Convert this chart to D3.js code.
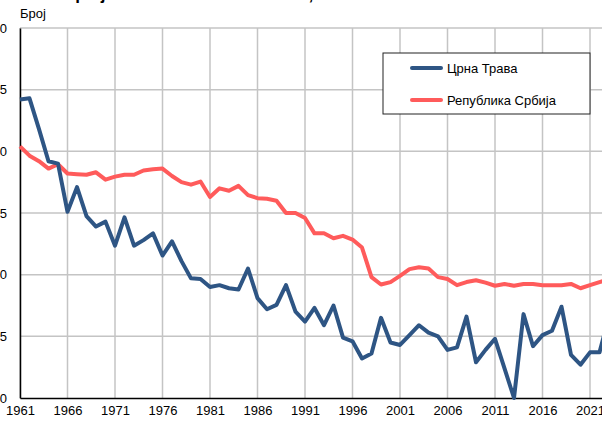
<!DOCTYPE html>
<html>
<head>
<meta charset="utf-8">
<script src="https://cdn.jsdelivr.net/npm/d3@7"></script>
<style>
  html, body { margin: 0; padding: 0; overflow: hidden; background: #fff; }
  svg { display: block; font-family: "Liberation Sans", Arial, sans-serif; }
</style>
</head>
<body>
<div class="chart"></div>
<script>
const years = d3.range(1961, 2024);
const crnaTrava = [24.2, 24.3, 21.8, 19.2, 19.0, 15.1, 17.1, 14.75, 13.9, 14.3,
  12.35, 14.65, 12.35, 12.8, 13.35, 11.55, 12.7, 11.1, 9.7, 9.65,
  9.0, 9.15, 8.9, 8.8, 10.5, 8.1, 7.2, 7.55, 9.15, 7.0,
  6.2, 7.3, 5.9, 7.5, 4.9, 4.6, 3.2, 3.6, 6.5, 4.5,
  4.3, 5.1, 5.9, 5.3, 5.0, 3.9, 4.1, 6.6, 2.9, 3.9,
  4.8, 2.4, 0.0, 6.8, 4.2, 5.1, 5.45, 7.4, 3.5, 2.7,
  3.7, 3.7, 6.6];
const srbija = [20.4, 19.65, 19.2, 18.6, 18.95, 18.2, 18.15, 18.1, 18.3, 17.7,
  17.95, 18.1, 18.1, 18.45, 18.55, 18.6, 18.0, 17.5, 17.3, 17.55,
  16.3, 17.0, 16.8, 17.2, 16.45, 16.2, 16.15, 16.0, 15.0, 15.0,
  14.6, 13.35, 13.35, 12.95, 13.15, 12.85, 12.2, 9.8, 9.2, 9.4,
  9.9, 10.45, 10.6, 10.5, 9.8, 9.65, 9.15, 9.4, 9.55, 9.35,
  9.1, 9.25, 9.1, 9.25, 9.25, 9.15, 9.15, 9.15, 9.25, 8.9,
  9.15, 9.4, 9.6];
const yTicks = [0, 5, 10, 15, 20, 25, 30];
const xTicks = d3.range(1961, 2027, 5);
const seriesNames = ["Црна Трава", "Република Србија"];
const seriesColors = ["#2e5584", "#ff5b5b"];

const W = 602, H = 421;
const margin = { top: 28, left: 20 };
const plotH = 370;

const svg = d3.select(".chart")
  .append("svg")
  .attr("width", W)
  .attr("height", H);

// scales: 9.5 px per year, plot runs past the right edge
const x = d3.scaleLinear()
  .domain([1961, 2023])
  .range([margin.left, margin.left + 62 * 9.5]);
const y = d3.scaleLinear()
  .domain([0, 30])
  .range([margin.top + plotH, margin.top]);

// title (cut off at the top, only descenders show)
svg.append("text")
  .attr("x", 20)
  .attr("y", -0.5)
  .attr("font-size", 17)
  .attr("font-weight", "bold")
  .text("Стопа рађања на 1000 становника, 1961–2023");

svg.append("text")
  .attr("x", 20)
  .attr("y", 18)
  .attr("font-size", 13)
  .text("Број");

// grid
svg.append("g")
  .selectAll("line")
  .data(xTicks)
  .join("line")
  .attr("x1", d => x(d)).attr("x2", d => x(d))
  .attr("y1", y(30)).attr("y2", y(0))
  .attr("stroke", "#c4c4c4")
  .attr("stroke-width", 1.5);

svg.append("g")
  .selectAll("line")
  .data(yTicks.filter(d => d > 0))
  .join("line")
  .attr("x1", x(1961)).attr("x2", W)
  .attr("y1", d => y(d)).attr("y2", d => y(d))
  .attr("stroke", "#c4c4c4")
  .attr("stroke-width", 1.5);

// axes
const yAxis = svg.append("g")
  .attr("transform", `translate(${x(1961)},0)`)
  .call(d3.axisLeft(y).tickValues(yTicks).tickSize(0).tickPadding(13));
yAxis.select(".domain").attr("stroke", "#000").attr("stroke-width", 1.5);
yAxis.selectAll("text").attr("font-size", 13).attr("fill", "#000")
  .attr("font-family", "Liberation Sans, Arial, sans-serif");

const xAxis = svg.append("g")
  .attr("transform", `translate(0,${y(0)})`)
  .call(d3.axisBottom(x).tickValues(xTicks).tickFormat(d3.format("d")).tickSize(0).tickPadding(8));
xAxis.select(".domain").attr("stroke", "#000").attr("stroke-width", 1.5);
xAxis.selectAll("text").attr("font-size", 13).attr("fill", "#000")
  .attr("font-family", "Liberation Sans, Arial, sans-serif");

// lines
const line = d3.line()
  .x((d, i) => x(years[i]))
  .y(d => y(d));

[srbija, crnaTrava].forEach((s, k) => {
  svg.append("path")
    .datum(s)
    .attr("fill", "none")
    .attr("stroke", seriesColors[1 - k])
    .attr("stroke-width", 4)
    .attr("stroke-linejoin", "round")
    .attr("d", line);
});

// legend
const legend = svg.append("g").attr("transform", "translate(383,53)");
legend.append("rect")
  .attr("width", 207).attr("height", 61)
  .attr("fill", "#fff")
  .attr("stroke", "#222")
  .attr("stroke-width", 1);

seriesNames.forEach((name, i) => {
  const ly = 15 + i * 32;
  legend.append("line")
    .attr("x1", 29).attr("x2", 58)
    .attr("y1", ly).attr("y2", ly)
    .attr("stroke", seriesColors[i])
    .attr("stroke-width", 4)
    .attr("stroke-linecap", "round");
  legend.append("text")
    .attr("x", 64)
    .attr("y", ly + 5)
    .attr("font-size", 13)
    .text(name);
});
</script>
</body>
</html>
